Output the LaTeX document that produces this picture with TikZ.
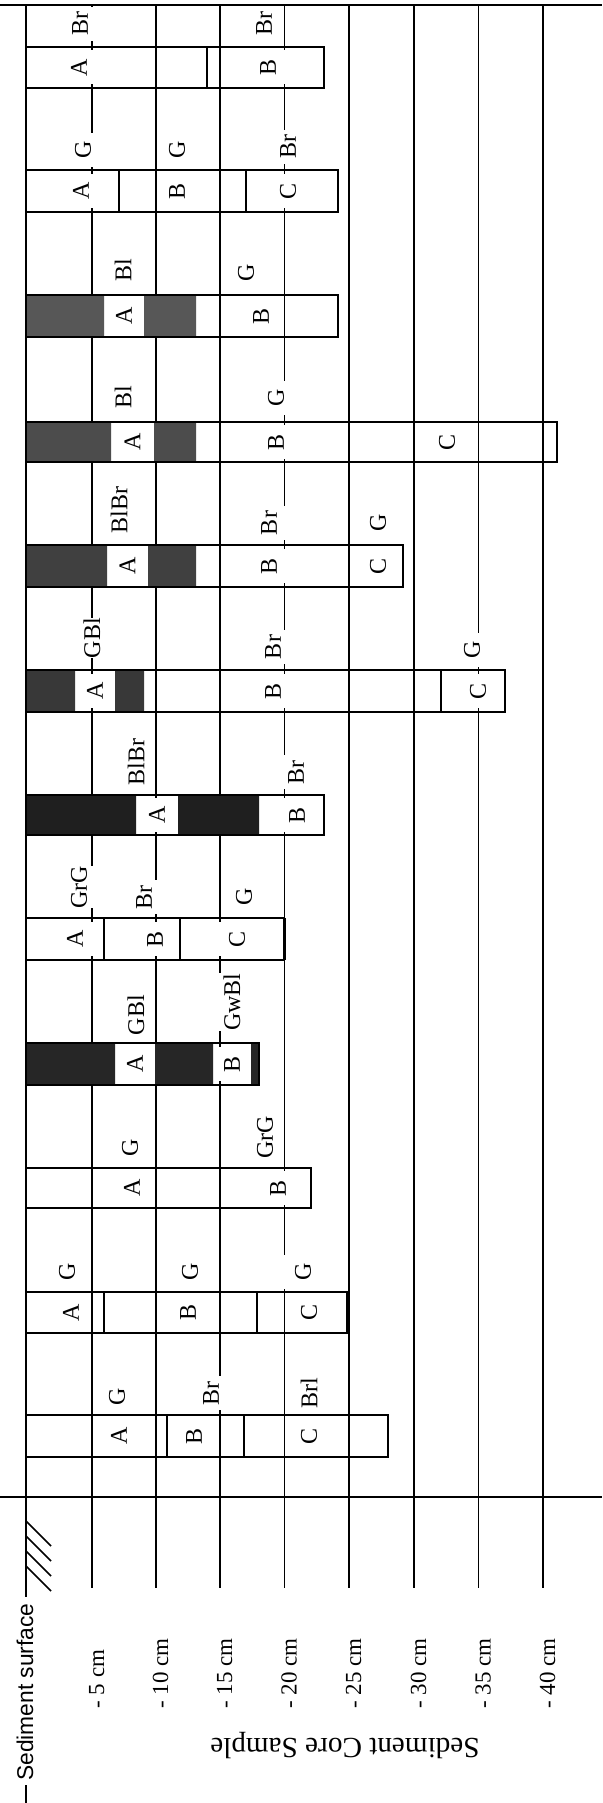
\documentclass[tikz,border=0pt]{standalone}
\usepackage{fontspec}
\setmainfont{Liberation Serif}
\newfontfamily\surffont{Liberation Sans}
\tikzset{
    depthLine/.style={line width=0.75pt},
    surfLine/.style={line width=1.1pt},
    barEdge/.style={line width=0.6pt},
    barEnd/.style={line width=1.2pt},
    horizon/.style={line width=1pt},
    darkZone/.style={fill=black!75},
    colorLbl/.style={rotate=90, fill=white, inner sep=0pt, minimum width=17pt, minimum height=19pt, font=\fontsize{12}{12}\selectfont},
    depthLbl/.style={rotate=90, inner sep=0pt, anchor=base west, font=\fontsize{11.5}{12}\selectfont}
}

\begin{document}
\begin{tikzpicture}[x=0.5pt, y=-0.5pt]
    \fill[white] (0,0) rectangle (602,1803);
    \useasboundingbox (0,0) rectangle (602,1803);
    % top edge and sediment surface
    \draw[barEdge] (0,5)--(602,5);
    \draw[depthLine] (0,1497)--(602,1497);
    \draw[surfLine] (26,5)--(26,1597);
    \draw[surfLine] (26,1785)--(26,1803);
    \draw[line width=0.75pt] (26,1521)--++(25,25) (26,1536)--++(25,25) (26,1551)--++(25,25) (26,1566)--++(25,25);
    % depth lines
    \draw[depthLine] (92,5)--(92,1588);
    \draw[depthLine] (156,5)--(156,1588);
    \draw[depthLine] (220,5)--(220,1588);
    \draw[depthLine] (284.5,5)--(284.5,1588);
    \draw[depthLine] (349,5)--(349,1588);
    \draw[depthLine] (414,5)--(414,1588);
    \draw[depthLine] (478.5,5)--(478.5,1588);
    \draw[depthLine] (543,5)--(543,1588);
    \node[rotate=90, inner sep=0pt, font=\surffont\fontsize{11.4}{12}\selectfont] (surf) at (25,1692) {Sediment surface};
    \node[depthLbl] (d5) at (104,1709) {- 5 cm};
    \node[depthLbl] (d10) at (168,1709) {- 10 cm};
    \node[depthLbl] (d15) at (232,1709) {- 15 cm};
    \node[depthLbl] (d20) at (296.5,1709) {- 20 cm};
    \node[depthLbl] (d25) at (361,1709) {- 25 cm};
    \node[depthLbl] (d30) at (426,1709) {- 30 cm};
    \node[depthLbl] (d35) at (490.5,1709) {- 35 cm};
    \node[depthLbl] (d40) at (555,1709) {- 40 cm};
    \node[rotate=180, inner sep=0pt, font=\fontsize{14.6}{15}\selectfont] (title) at (345,1745) {Sediment Core Sample};

    % colour notes and horizons
    \node[colorLbl] (n1a) at (80,24) {Br};
    \node[colorLbl] (n1b) at (264,24) {Br};
    \node[colorLbl] (c1A) at (79,67.5) {A};
    \node[colorLbl] (c1B) at (268,67.5) {B};
    \node[colorLbl] (n2a) at (83,150) {G};
    \node[colorLbl] (n2b) at (177,150) {G};
    \node[colorLbl] (n2c) at (288,147) {Br};
    \node[colorLbl] (c2A) at (81,191) {A};
    \node[colorLbl] (c2B) at (177,191) {B};
    \node[colorLbl] (c2C) at (288,191) {C};
    \node[colorLbl] (n3a) at (123,270) {Bl};
    \node[colorLbl] (n3b) at (246,273) {G};
    \node[colorLbl] (c3A) at (124,316) {A};
    \node[colorLbl] (c3B) at (261,316) {B};
    \node[colorLbl] (n4a) at (123,397) {Bl};
    \node[colorLbl] (n4b) at (276,398) {G};
    \node[colorLbl] (c4A) at (132.5,442) {A};
    \node[colorLbl] (c4B) at (276,442) {B};
    \node[colorLbl] (c4C) at (447,442) {C};
    \node[colorLbl] (n5a) at (119,510) {BlBr};
    \node[colorLbl] (n5b) at (269,523) {Br};
    \node[colorLbl] (n5c) at (378,523) {G};
    \node[colorLbl] (c5A) at (127.5,566) {A};
    \node[colorLbl] (c5B) at (269,566) {B};
    \node[colorLbl] (c5C) at (378,566) {C};
    \node[colorLbl] (n6a) at (92,638) {GBl};
    \node[colorLbl] (n6b) at (273,647) {Br};
    \node[colorLbl] (n6c) at (472,650) {G};
    \node[colorLbl] (c6A) at (95,691) {A};
    \node[colorLbl] (c6B) at (273,691) {B};
    \node[colorLbl] (c6C) at (478,691) {C};
    \node[colorLbl] (n7a) at (136,762) {BlBr};
    \node[colorLbl] (n7b) at (296,772) {Br};
    \node[colorLbl] (c7A) at (157,815) {A};
    \node[colorLbl] (c7B) at (297,815) {B};
    \node[colorLbl] (n8a) at (79,887) {GrG};
    \node[colorLbl] (n8b) at (144,897) {Br};
    \node[colorLbl] (n8c) at (244,897) {G};
    \node[colorLbl] (c8A) at (75,939) {A};
    \node[colorLbl] (c8B) at (155,939) {B};
    \node[colorLbl] (c8C) at (237,939) {C};
    \node[colorLbl] (n9a) at (136,1015) {GBl};
    \node[colorLbl] (n9b) at (232,1002) {GwBl};
    \node[colorLbl] (c9A) at (135,1064) {A};
    \node[colorLbl] (c9B) at (232,1064) {B};
    \node[colorLbl] (n10a) at (130,1148) {G};
    \node[colorLbl] (n10b) at (265,1137) {GrG};
    \node[colorLbl] (c10A) at (132,1188) {A};
    \node[colorLbl] (c10B) at (278,1188) {B};
    \node[colorLbl] (n11a) at (67,1272) {G};
    \node[colorLbl] (n11b) at (190,1272) {G};
    \node[colorLbl] (n11c) at (303,1272) {G};
    \node[colorLbl] (c11A) at (71,1312.5) {A};
    \node[colorLbl] (c11B) at (188,1312.5) {B};
    \node[colorLbl] (c11C) at (309,1312.5) {C};
    \node[colorLbl] (n12a) at (117,1397) {G};
    \node[colorLbl] (n12b) at (211,1393) {Br};
    \node[colorLbl] (n12c) at (309,1393) {Brl};
    \node[colorLbl] (c12A) at (119,1436) {A};
    \node[colorLbl] (c12B) at (194,1436) {B};
    \node[colorLbl] (c12C) at (309,1436) {C};

    % dark layers
    \fill[darkZone, fill=black!66] (26,295) rectangle (104,337) (144,295) rectangle (196,337);
    \fill[darkZone, fill=black!70] (26,422) rectangle (111,462) (154,422) rectangle (196,462);
    \fill[darkZone] (26,545) rectangle (107,587) (148,545) rectangle (196,587);
    \fill[darkZone, fill=black!78] (26,670) rectangle (75,712) (115,670) rectangle (144,712);
    \fill[darkZone, fill=black!88] (26,795) rectangle (136,835) (178,795) rectangle (259,835);
    \fill[darkZone, fill=black!85] (26,1043) rectangle (115,1085) (155,1043) rectangle (213,1085) (251,1043) rectangle (259,1085);

    % cores
    \draw[barEdge] (26,47) rectangle (324,88);       \draw[barEnd] (324,47)--(324,88);
    \draw[horizon] (207,47)--(207,88);
    \draw[barEdge] (26,170) rectangle (338,212);     \draw[barEnd] (338,170)--(338,212);
    \draw[horizon] (119,170)--(119,212) (246,170)--(246,212);
    \draw[barEdge] (26,295) rectangle (338,337);     \draw[barEnd] (338,295)--(338,337);
    \draw[barEdge] (26,422) rectangle (557,462);     \draw[barEnd] (557,422)--(557,462);
    \draw[barEdge] (26,545) rectangle (403,587);     \draw[barEnd] (403,545)--(403,587);
    \draw[barEdge] (26,670) rectangle (505,712);     \draw[barEnd] (505,670)--(505,712);
    \draw[horizon] (441,670)--(441,712);
    \draw[barEdge] (26,795) rectangle (324,835);     \draw[barEnd] (324,795)--(324,835);
    \draw[barEdge] (26,918) rectangle (284.5,960);   \draw[barEnd] (284.5,918)--(284.5,960);
    \draw[horizon] (104,918)--(104,960) (180,918)--(180,960);
    \draw[barEdge] (26,1043) rectangle (259,1085);   \draw[barEnd] (259,1043)--(259,1085);
    \draw[barEdge] (26,1168) rectangle (311,1208);   \draw[barEnd] (311,1168)--(311,1208);
    \draw[barEdge] (26,1292) rectangle (347,1333);   \draw[barEnd] (347,1292)--(347,1333);
    \draw[horizon] (104,1292)--(104,1333) (257,1292)--(257,1333);
    \draw[barEdge] (26,1415) rectangle (388,1457);   \draw[barEnd] (388,1415)--(388,1457);
    \draw[horizon] (167,1415)--(167,1457) (244,1415)--(244,1457);
\end{tikzpicture}
\end{document}
